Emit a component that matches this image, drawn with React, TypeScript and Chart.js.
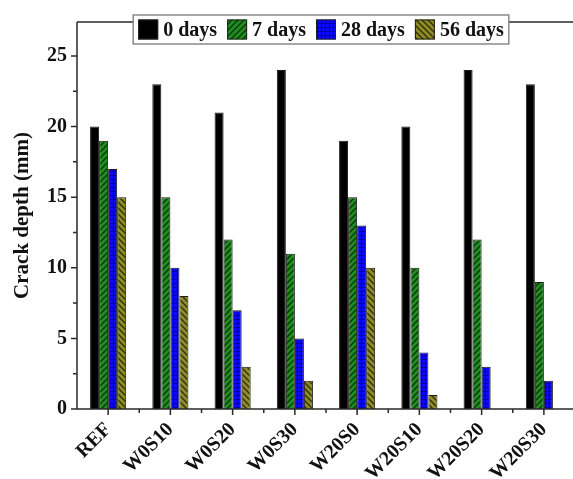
import React, { useEffect, useRef } from 'react';
import { Chart, registerables } from 'chart.js';

Chart.register(...registerables);

const categories = ['REF', 'W0S10', 'W0S20', 'W0S30', 'W20S0', 'W20S10', 'W20S20', 'W20S30'];
const seriesLabels = ['0 days', '7 days', '28 days', '56 days'];
const days0 = [20, 23, 21, 24, 19, 20, 24, 23];
const days7 = [19, 15, 12, 11, 15, 10, 12, 9];
const days28 = [17, 10, 7, 5, 13, 4, 3, 2];
const days56 = [15, 8, 3, 2, 10, 1, 0, 0];
const yTicks = [0, 5, 10, 15, 20, 25];
const yMinorTicks = [2.5, 7.5, 12.5, 17.5, 22.5];
const yTitle = 'Crack depth (mm)';

const FONT = "'Liberation Serif', 'Times New Roman', serif";

function makePattern(bg: string, line: string, kind: string): CanvasPattern | string {
  const size = kind === 'grid' ? 4 : 6;
  const c = document.createElement('canvas');
  c.width = size;
  c.height = size;
  const g = c.getContext('2d');
  if (!g) return bg;
  g.fillStyle = bg;
  g.fillRect(0, 0, size, size);
  if (kind === 'grid') {
    g.fillStyle = line;
    g.fillRect(0, 3, 4, 1);
    g.fillRect(1, 0, 1, 3);
  } else {
    g.strokeStyle = line;
    g.lineWidth = 1.3;
    g.beginPath();
    if (kind === 'fwd') {
      g.moveTo(-1, size + 1); g.lineTo(size + 1, -1);
      g.moveTo(-2, 2); g.lineTo(2, -2);
      g.moveTo(size - 2, size + 2); g.lineTo(size + 2, size - 2);
    } else {
      g.moveTo(-1, -1); g.lineTo(size + 1, size + 1);
      g.moveTo(size - 2, -2); g.lineTo(size + 2, 2);
      g.moveTo(-2, size - 2); g.lineTo(2, size + 2);
    }
    g.stroke();
  }
  return g.createPattern(c, 'repeat') || bg;
}

const framePlugin = {
  id: 'frame',
  afterDraw(chart: any) {
    const { ctx, chartArea: a, scales } = chart;
    const x = scales.x;
    const y = scales.y;
    ctx.save();
    ctx.strokeStyle = '#2a2a2a';
    ctx.lineWidth = 1.5;
    ctx.beginPath();
    ctx.moveTo(a.left, a.top); ctx.lineTo(a.right + 10, a.top);
    ctx.moveTo(a.left, a.top); ctx.lineTo(a.left, a.bottom);
    ctx.moveTo(a.left, a.bottom); ctx.lineTo(a.right + 10, a.bottom);
    for (const v of yTicks) {
      const p = y.getPixelForValue(v);
      ctx.moveTo(a.left - 6, p); ctx.lineTo(a.left, p);
    }
    for (const v of yMinorTicks) {
      const p = y.getPixelForValue(v);
      ctx.moveTo(a.left - 4, p); ctx.lineTo(a.left, p);
    }
    categories.forEach((_c, i) => {
      const p = x.getPixelForValue(i);
      ctx.moveTo(p, a.bottom); ctx.lineTo(p, a.bottom + 6);
      if (i > 0) {
        const m = (x.getPixelForValue(i - 1) + p) / 2;
        ctx.moveTo(m, a.bottom); ctx.lineTo(m, a.bottom + 4);
      }
    });
    ctx.stroke();
    ctx.restore();
  },
};

const legendPlugin = {
  id: 'boxLegend',
  afterDraw(chart: any) {
    const { ctx } = chart;
    const ds = chart.data.datasets;
    ctx.save();
    ctx.font = `bold 20px ${FONT}`;
    ctx.textBaseline = 'middle';
    ctx.textAlign = 'left';
    const box = 20;
    const gapText = 5;
    const gapItem = 10;
    const padX = 5;
    const widths = ds.map((d: any) => box + gapText + ctx.measureText(d.label).width);
    const total = widths.reduce((s: number, w: number) => s + w, 0) + gapItem * (ds.length - 1) + padX * 2;
    const cx = 321;
    const left = cx - total / 2;
    const top = 15;
    const h = 29;
    ctx.fillStyle = '#ffffff';
    ctx.fillRect(left, top, total, h);
    ctx.strokeStyle = '#8a8a8a';
    ctx.lineWidth = 1.5;
    ctx.strokeRect(left, top, total, h);
    let xx = left + padX;
    const cy = top + h / 2;
    ds.forEach((d: any, i: number) => {
      ctx.fillStyle = d.backgroundColor;
      ctx.fillRect(xx, cy - box / 2, box, box);
      ctx.strokeStyle = '#222';
      ctx.lineWidth = 1;
      ctx.strokeRect(xx + 0.5, cy - box / 2 + 0.5, box - 1, box - 1);
      ctx.fillStyle = '#111';
      ctx.fillText(d.label, xx + box + gapText, cy + 1);
      xx += widths[i] + gapItem;
    });
    ctx.restore();
  },
};

export default function App() {
  const ref = useRef<HTMLCanvasElement>(null);

  useEffect(() => {
    if (!ref.current) return;
    const green = makePattern('#228c22', 'rgba(0,40,0,0.85)', 'fwd');
    const blue = makePattern('#0a0aff', 'rgba(0,0,140,0.8)', 'grid');
    const olive = makePattern('#8e8c22', 'rgba(30,30,0,0.85)', 'back');
    const colors = ['#000000', green, blue, olive];
    const series = [days0, days7, days28, days56];
    const chart = new Chart(ref.current, {
      type: 'bar',
      data: {
        labels: categories,
        datasets: series.map((s, i) => ({
          label: seriesLabels[i],
          data: s,
          backgroundColor: colors[i] as any,
          borderColor: '#1a1a1a',
          borderWidth: 1,
          categoryPercentage: 0.58,
          barPercentage: 1,
        })),
      },
      options: {
        animation: false,
        responsive: false,
        devicePixelRatio: 1,
        layout: { padding: { left: 0, top: 10, right: 5, bottom: 0 } },
        plugins: {
          legend: { display: false },
          tooltip: { enabled: false },
        },
        scales: {
          x: {
            grid: { display: false, drawTicks: false },
            border: { display: false },
            ticks: {
              autoSkip: false,
              minRotation: 45,
              maxRotation: 45,
              padding: 9,
              color: '#111',
              font: { family: FONT, size: 20, weight: 'bold' },
            },
            afterFit: (scale: any) => { scale.height = 70; },
          },
          y: {
            min: 0,
            max: 27.4,
            grid: { display: false, drawTicks: false },
            border: { display: false },
            afterBuildTicks: (scale: any) => { scale.ticks = yTicks.map((v) => ({ value: v })); },
            ticks: {
              padding: 10,
              color: '#111',
              font: { family: FONT, size: 20, weight: 'bold' },
            },
            title: {
              display: true,
              text: yTitle,
              color: '#111',
              padding: { top: 10, bottom: 0 },
              font: { family: FONT, size: 21, weight: 'bold' },
            },
            afterFit: (scale: any) => { scale.width = 77; },
          },
        },
      },
      plugins: [framePlugin, legendPlugin],
    });
    return () => chart.destroy();
  }, []);

  return (
    <div style={{ position: 'absolute', left: 0, top: 0, width: 573, height: 479, overflow: 'hidden', background: '#fff' }}>
      <canvas ref={ref} width={580} height={479} style={{ display: 'block' }} />
    </div>
  );
}
